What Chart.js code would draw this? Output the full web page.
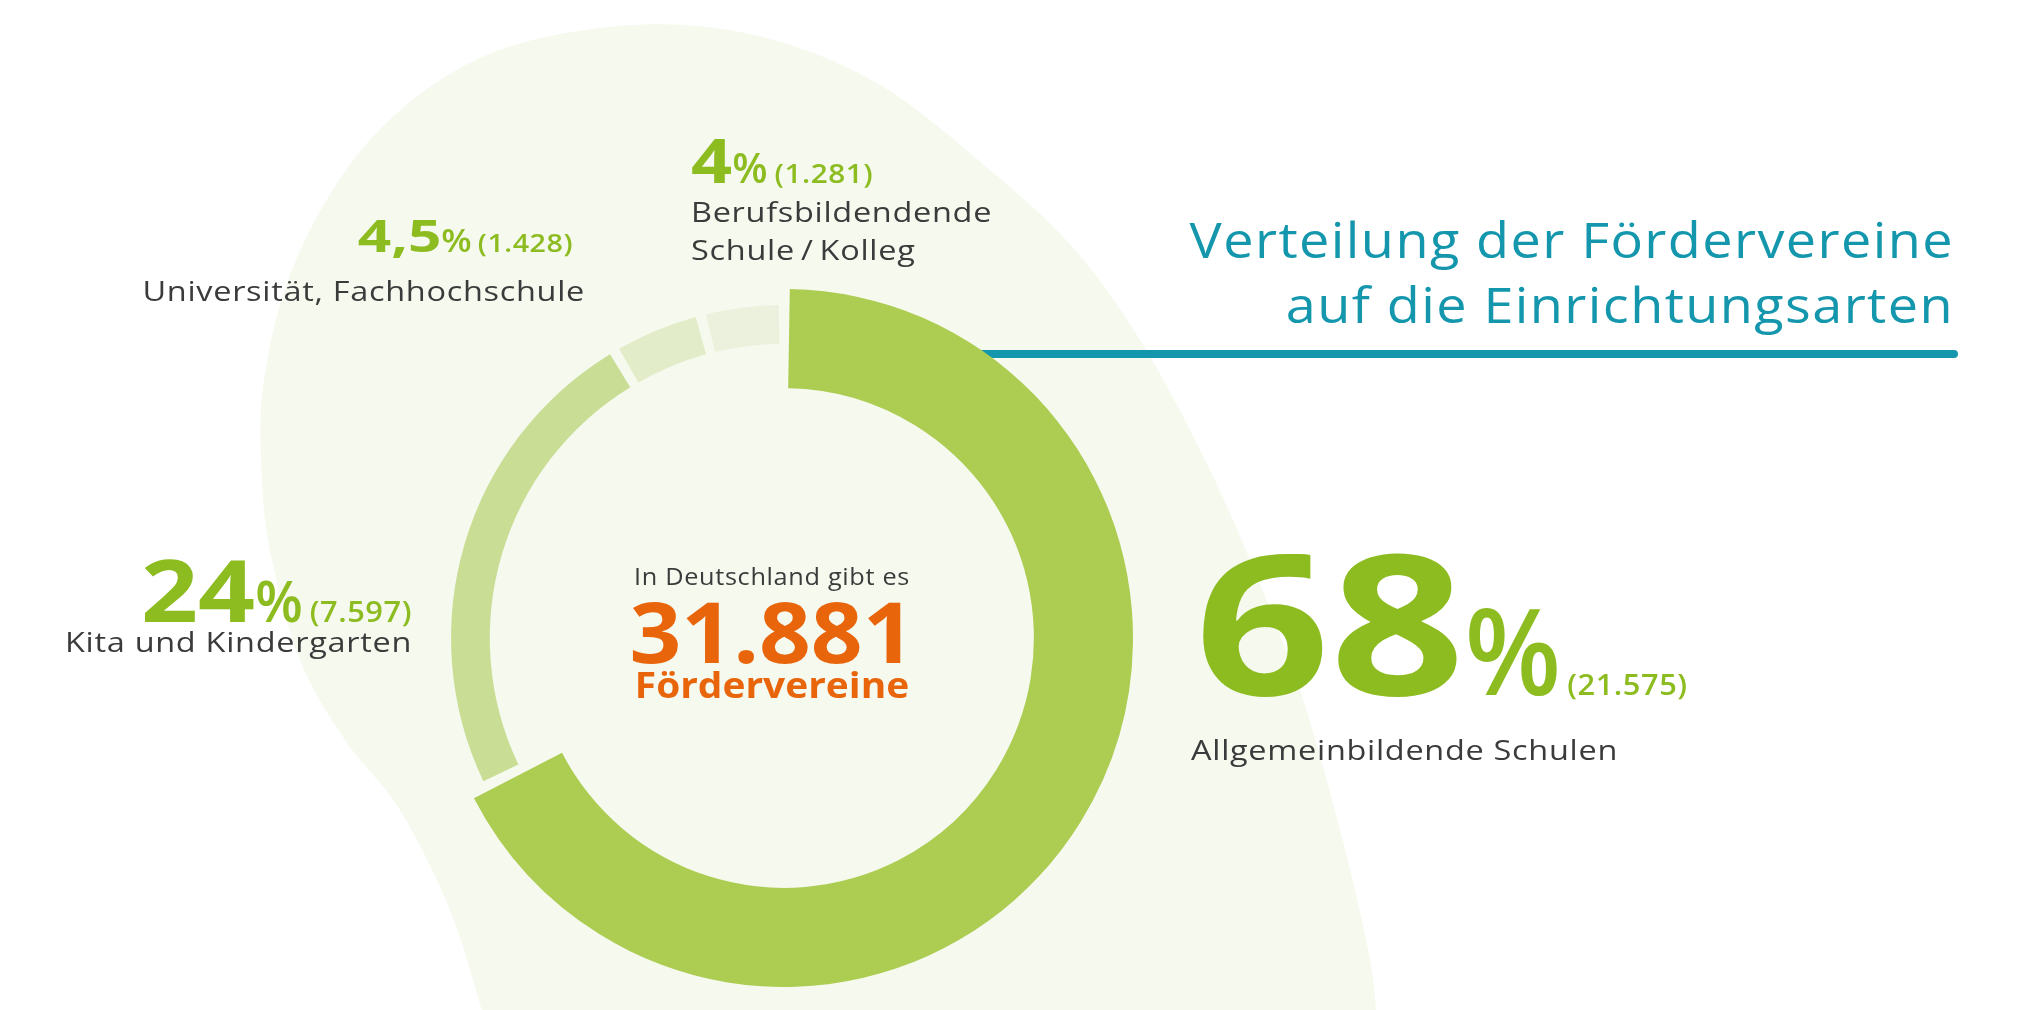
<!DOCTYPE html>
<html lang="de">
<head>
<meta charset="utf-8">
<title>Verteilung der Fördervereine</title>
<script src="https://cdn.jsdelivr.net/npm/chart.js@4.4.1/dist/chart.umd.min.js"></script>
<style>
  html, body { margin: 0; padding: 0; background: #fff; }
  #wrap { position: relative; width: 2026px; height: 1010px; }
</style>
</head>
<body>
<div id="wrap"><canvas id="chart" width="2026" height="1010"></canvas></div>
<script>
// Daten
const categories = ['Allgemeinbildende Schulen', 'Kita und Kindergarten', 'Universität, Fachhochschule', 'Berufsbildendende\nSchule\u2009/\u2009Kolleg'];
const counts = [21575, 7597, 1428, 1281];
const percentLabels = ['68', '24', '4,5', '4'];
const segmentColors = ['#adcd52', '#c9de94', '#e2ecc8', '#ebf1dd'];
const titleLines = ['Verteilung der Fördervereine', 'auf die Einrichtungsarten'];
const centerLines = ['In Deutschland gibt es', 'Fördervereine'];

const total = counts.reduce((a, b) => a + b, 0);
const fmt = n => String(n).replace(/\B(?=(\d{3})+(?!\d))/g, '.');

const GREEN = '#8dbc21';
const DARK = '#3b3b3b';
const ORANGE = '#e8650c';
const TEAL = '#1497ad';
const FONT = "'Open Sans', 'Noto Sans', sans-serif";
const GAP = 5;               // halbe Lücke zwischen Segmenten (px)
const THIN = [0.843, 0.954]; // schmaler Ring für kleine Segmente (Anteil vom Radius)

// Position der Beschriftungen (Grundlinie)
const labelLayout = [
  { x: 1195, y: 695, align: 'left', big: 195, bigSx: 1.21, pct: 120, pctSx: 0.93, cnt: 28, gap: 6, textX: 1191, textY: 760 },
  { x: 412, y: 622, align: 'right', big: 86, bigSx: 1.16, pct: 58, pctSx: 0.95, cnt: 28, gap: 7, textX: 412, textY: 652 },
  { x: 573, y: 252, align: 'right', big: 45, bigSx: 1.3, pct: 32, pctSx: 1.1, cnt: 26, gap: 6, textX: 585, textY: 301 },
  { x: 691, y: 183, align: 'left', big: 60, bigSx: 1.2, pct: 41, pctSx: 1.0, cnt: 27, gap: 7, textX: 691, textY: 222, lineGap: 38 }
];

// Hintergrundform
const blob = [[492, 1040], [482, 1010], [450, 910], [400, 810], [345, 740], [300, 660], [272, 560],
  [262, 480], [264, 380], [296, 260], [370, 140], [480, 58], [620, 26], [750, 34], [875, 82],
  [990, 170], [1075, 250], [1140, 340], [1200, 450], [1250, 560], [1300, 690], [1340, 830],
  [1370, 960], [1378, 1040]];

function smoothPath(ctx, pts) {
  ctx.moveTo(pts[0][0], pts[0][1]);
  for (let i = 0; i < pts.length - 1; i++) {
    const p0 = pts[i - 1] || pts[i], p1 = pts[i], p2 = pts[i + 1], p3 = pts[i + 2] || p2;
    ctx.bezierCurveTo(p1[0] + (p2[0] - p0[0]) / 6, p1[1] + (p2[1] - p0[1]) / 6,
      p2[0] - (p3[0] - p1[0]) / 6, p2[1] - (p3[1] - p1[1]) / 6, p2[0], p2[1]);
  }
}

function textWidth(ctx, p) {
  ctx.save();
  ctx.font = p.font;
  ctx.letterSpacing = (p.ls || 0) + 'px';
  const w = ctx.measureText(p.text).width * (p.sx || 1);
  ctx.restore();
  return w;
}

function drawText(ctx, p, x, y) {
  ctx.save();
  ctx.font = p.font;
  ctx.letterSpacing = (p.ls || 0) + 'px';
  ctx.fillStyle = p.color;
  ctx.textAlign = 'left';
  ctx.textBaseline = 'alphabetic';
  ctx.translate(x, y);
  ctx.scale(p.sx || 1, 1);
  ctx.fillText(p.text, 0, 0);
  ctx.restore();
}

function drawRun(ctx, x, y, parts, align) {
  const ws = parts.map(p => textWidth(ctx, p));
  const w = ws.reduce((a, b) => a + b, 0) + parts.reduce((a, p) => a + (p.gap || 0), 0);
  let cx = align === 'right' ? x - w : align === 'center' ? x - w / 2 : x;
  parts.forEach((p, i) => {
    cx += p.gap || 0;
    drawText(ctx, p, cx, y);
    cx += ws[i];
  });
}

const decoPlugin = {
  id: 'deco',
  beforeDraw(chart) {
    const ctx = chart.ctx;
    ctx.save();
    ctx.fillStyle = '#ffffff';
    ctx.fillRect(0, 0, chart.width, chart.height);
    ctx.beginPath();
    smoothPath(ctx, blob);
    ctx.closePath();
    ctx.fillStyle = '#f5f9ee';
    ctx.fill();
    ctx.restore();
  },
  afterDatasetsUpdate(chart) {
    // kleine Segmente als schmaler Ring, gleich breite Lücken
    const meta = chart.getDatasetMeta(0);
    const R = meta.controller.outerRadius;
    const Rin = meta.controller.innerRadius;
    meta.data.forEach((arc, i) => {
      const outer = i === 0 ? R : R * THIN[1];
      const inner = i === 0 ? Rin : R * THIN[0];
      const rMid = (outer + inner) / 2;
      const alpha = 2 * Math.PI * counts[i] / total;
      const s = 2 * GAP * rMid / (alpha * rMid + GAP);
      arc.options = Object.assign({}, arc.options, { spacing: 2 * s });
      arc.outerRadius = outer - s;
      arc.innerRadius = inner - s;
    });
  },
  beforeDatasetsDraw(chart) {
    const ctx = chart.ctx;
    const arc = chart.getDatasetMeta(0).data[0];
    ctx.save();
    ctx.strokeStyle = TEAL;
    ctx.lineWidth = 8;
    ctx.lineCap = 'round';
    ctx.beginPath();
    ctx.moveTo(arc.x + 150, 354);
    ctx.lineTo(1954, 354);
    ctx.stroke();
    ctx.restore();
  },
  afterDraw(chart) {
    const ctx = chart.ctx;
    // Titel
    const titleFont = { font: '400 50px ' + FONT, color: TEAL, sx: 1.08, ls: 1.3 };
    drawRun(ctx, 1954, 258, [{ ...titleFont, text: titleLines[0] }], 'right');
    drawRun(ctx, 1954, 323, [{ ...titleFont, text: titleLines[1] }], 'right');

    // Mitte
    const cx = 772;
    drawRun(ctx, cx, 585, [{ text: centerLines[0], font: '400 23px ' + FONT, color: DARK, sx: 1.1, ls: 0.6 }], 'center');
    drawRun(ctx, cx, 663, [{ text: fmt(total), font: '700 84px ' + FONT, color: ORANGE, sx: 1.08 }], 'center');
    drawRun(ctx, cx, 698, [{ text: centerLines[1], font: '700 36px ' + FONT, color: ORANGE, sx: 1.08 }], 'center');

    // Segmentbeschriftungen
    labelLayout.forEach((L, i) => {
      drawRun(ctx, L.x, L.y, [
        { text: percentLabels[i], font: `700 ${L.big}px ${FONT}`, color: GREEN, sx: L.bigSx },
        { text: '%', font: `600 ${L.pct}px ${FONT}`, color: GREEN, sx: L.pctSx },
        { text: '(' + fmt(counts[i]) + ')', font: `600 ${L.cnt}px ${FONT}`, color: GREEN, sx: 1.1, ls: 0.5, gap: L.gap }
      ], L.align);
      categories[i].split('\n').forEach((line, k) => {
        drawRun(ctx, L.textX, L.textY + k * (L.lineGap || 0),
          [{ text: line, font: '400 28px ' + FONT, color: DARK, sx: 1.16, ls: 0.6 }], L.align);
      });
    });
  }
};

new Chart(document.getElementById('chart'), {
  type: 'doughnut',
  data: {
    labels: categories,
    datasets: [{
      data: counts,
      backgroundColor: segmentColors,
      borderWidth: 0
    }]
  },
  options: {
    responsive: false,
    animation: false,
    events: [],
    cutout: '71.6%',
    layout: { padding: { left: 435, top: 289, right: 893, bottom: 23 } },
    plugins: {
      legend: { display: false },
      tooltip: { enabled: false }
    }
  },
  plugins: [decoPlugin]
});
</script>
</body>
</html>
